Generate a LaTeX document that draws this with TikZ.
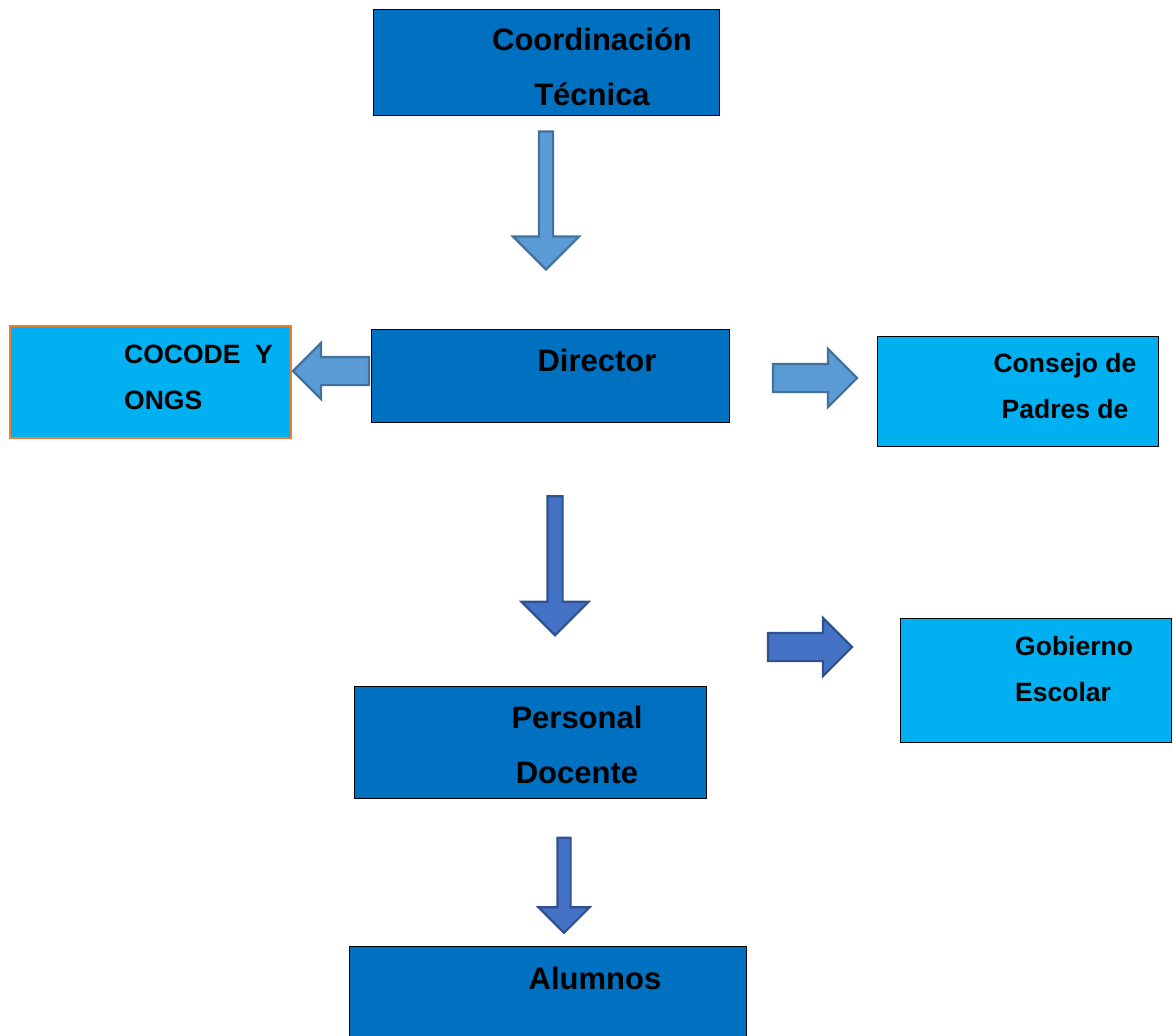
\documentclass[tikz,border=0pt]{standalone}
\usepackage{fontspec}
\setmainfont{Liberation Sans}
\usetikzlibrary{positioning,shapes.arrows}
\definecolor{MainBlue}{RGB}{0,112,192}
\definecolor{SkyBlue}{RGB}{0,176,240}
\definecolor{EdgeOrange}{RGB}{237,125,49}
\definecolor{ArrowLight}{RGB}{91,155,213}
\definecolor{ArrowLightEdge}{RGB}{65,113,156}
\definecolor{ArrowDeep}{RGB}{68,114,196}
\definecolor{ArrowDeepEdge}{RGB}{47,82,143}
\tikzset{
  headbox/.style={
    draw=black,
    line width=1.2pt,
    fill=MainBlue,
    anchor=north west,
    inner sep=0pt
  },
  sidebox/.style={
    draw=black,
    line width=1.2pt,
    fill=SkyBlue,
    anchor=north west,
    inner sep=0pt
  },
  bigtext/.style={font=\bfseries\fontsize{31}{55}\selectfont,align=center,inner sep=0pt},
  smalltext/.style={font=\bfseries\fontsize{26.5}{46}\selectfont,inner sep=0pt},
  blockarrow/.style={
    single arrow,
    single arrow head indent=0pt,
    single arrow tip angle=90,
    inner xsep=0pt,
    minimum width=0pt,
    line width=2.2pt
  },
  lightarrow/.style={blockarrow,fill=ArrowLight,draw=ArrowLightEdge},
  deeparrow/.style={blockarrow,fill=ArrowDeep,draw=ArrowDeepEdge}
}
\begin{document}
\begin{tikzpicture}[x=1pt,y=-1pt]
    \useasboundingbox (0,0) rectangle (1173,1036);
    % boxes
    \node[headbox,minimum width=346pt,minimum height=106pt] (coord) at (373,9) {};
    \node[headbox,minimum width=358pt,minimum height=93pt] (director) at (371,329) {};
    \node[sidebox,draw=EdgeOrange,line width=2.2pt,minimum width=281pt,minimum height=112pt] (cocode) at (9,325) {};
    \node[sidebox,minimum width=281pt,minimum height=110pt] (consejo) at (877,336) {};
    \node[sidebox,minimum width=271pt,minimum height=124pt] (gobierno) at (900,618) {};
    \node[headbox,minimum width=352pt,minimum height=112pt] (personal) at (354,686) {};
    \node[headbox,minimum width=397pt,minimum height=120pt] (alumnos) at (349,946) {};
    % texts
    \node[bigtext] (coord-t) at (592,67) {Coordinación\\Técnica};
    \node[bigtext] (director-t) at (597,360) {Director};
    \node[smalltext,anchor=west,align=left] (cocode-t) at (124,377) {COCODE \ Y\\ONGS};
    \node[smalltext,align=center] (consejo-t) at (1065,386) {Consejo de\\Padres de};
    \node[smalltext,anchor=west,align=left] (gobierno-t) at (1015,669) {Gobierno\\Escolar};
    \node[bigtext] (personal-t) at (577,745) {Personal\\Docente};
    \node[bigtext] (alumnos-t) at (595,978) {Alumnos};
    % arrows
    \node[lightarrow,rotate=-90,minimum height=138pt,inner ysep=6pt,single arrow head extend=26pt] (down1) at (546,197) {};
    \node[lightarrow,rotate=180,minimum height=76pt,inner ysep=13pt,single arrow head extend=14pt] (left1) at (338,371) {};
    \node[lightarrow,minimum height=84pt,inner ysep=13pt,single arrow head extend=15pt] (right1) at (808,378) {};
    \node[deeparrow,rotate=-90,minimum height=139pt,inner ysep=6.5pt,single arrow head extend=26pt] (down2) at (555,562) {};
    \node[deeparrow,minimum height=84pt,inner ysep=13pt,single arrow head extend=15pt] (right2) at (803,647) {};
    \node[deeparrow,rotate=-90,minimum height=95pt,inner ysep=5.5pt,single arrow head extend=19pt] (down3) at (564,882) {};
  \end{tikzpicture}
\end{document}
